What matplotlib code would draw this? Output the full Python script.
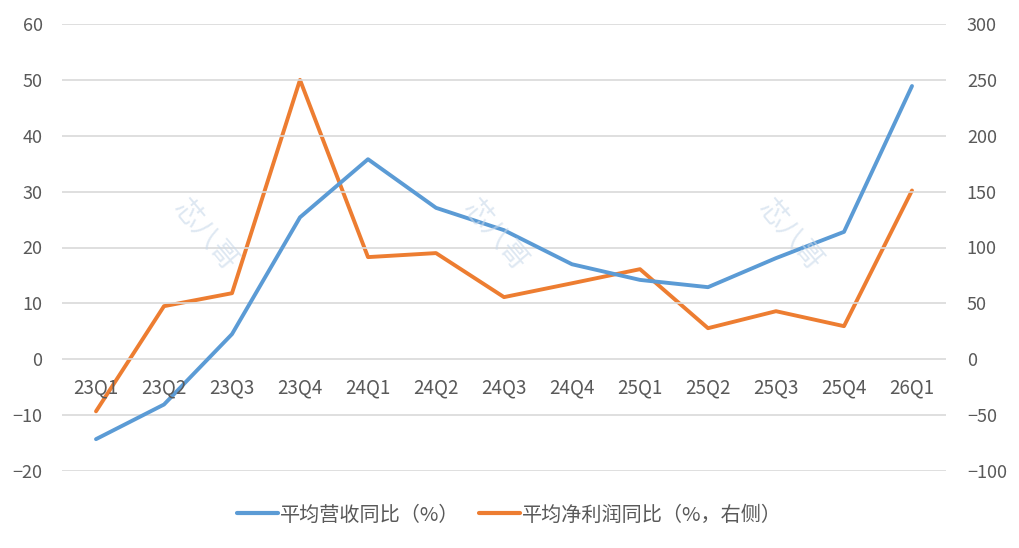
import matplotlib.pyplot as plt
from matplotlib.lines import Line2D

plt.rcParams['font.family'] = ['Noto Sans CJK SC', 'DejaVu Sans']

quarters = ['23Q1', '23Q2', '23Q3', '23Q4', '24Q1', '24Q2', '24Q3',
            '24Q4', '25Q1', '25Q2', '25Q3', '25Q4', '26Q1']
revenue_yoy = [-14.3, -8.1, 4.5, 25.4, 35.8, 27.1, 23.1, 17.0, 14.2, 12.9, 18.1, 22.8, 48.9]
profit_yoy = [-46.6, 47.5, 59.1, 250, 91.4, 95, 55.6, 68, 80.6, 27.8, 43, 29.6, 151]

blue = '#5B9BD5'
orange = '#ED7D31'
txt = '#595959'
grid = '#D9D9D9'

fig = plt.figure(figsize=(10.19, 5.48), dpi=100)
ax = fig.add_axes([62 / 1019, 1 - 471 / 548, 884 / 1019, 447 / 548])
ax2 = ax.twinx()

x = list(range(len(quarters)))
ax.plot(x, revenue_yoy, color=blue, lw=2.8, solid_capstyle='round', zorder=3)
ax2.plot(x, profit_yoy, color=orange, lw=2.8, solid_capstyle='round', zorder=3)

ax.set_xlim(-0.5, len(quarters) - 0.5)
ax.set_ylim(-20, 60)
ax2.set_ylim(-100, 300)
ax.set_yticks(range(-20, 61, 10))
ax2.set_yticks(range(-100, 301, 50))
ax.set_xticks([])

for a in (ax, ax2):
    for s in a.spines.values():
        s.set_visible(False)
    a.tick_params(axis='y', length=0, labelsize=13, labelcolor=txt)
ax.tick_params(axis='y', pad=14)
ax2.tick_params(axis='y', pad=15)
ax.yaxis.grid(True, color=grid, lw=1.2)
ax.set_axisbelow(True)
ax.set_zorder(ax2.get_zorder() + 1)
ax.patch.set_visible(False)

for i, q in enumerate(quarters):
    ax.annotate(q, xy=(i, 0), xytext=(0, -29), textcoords='offset pixels',
                ha='center', va='center', fontsize=13.5, color=txt)

# faint watermarks
for wx in (205, 495, 790):
    fig.text(wx / 1019, 1 - 235 / 548, '芯八哥', rotation=-50, fontsize=20,
             color='#C9D9EA', alpha=0.6, ha='center', va='center')

handles = [Line2D([], [], color=blue, lw=3, solid_capstyle='round'),
           Line2D([], [], color=orange, lw=3, solid_capstyle='round')]
fig.legend(handles, ['平均营收同比（%）', '平均净利润同比（%，右侧）'],
           loc='center', bbox_to_anchor=(0.5, 1 - 515 / 548), ncol=2,
           frameon=False, fontsize=14.5, labelcolor=txt, handlelength=2.0,
           handletextpad=0.1, columnspacing=1.0)

fig.savefig('out.png', dpi=100)
